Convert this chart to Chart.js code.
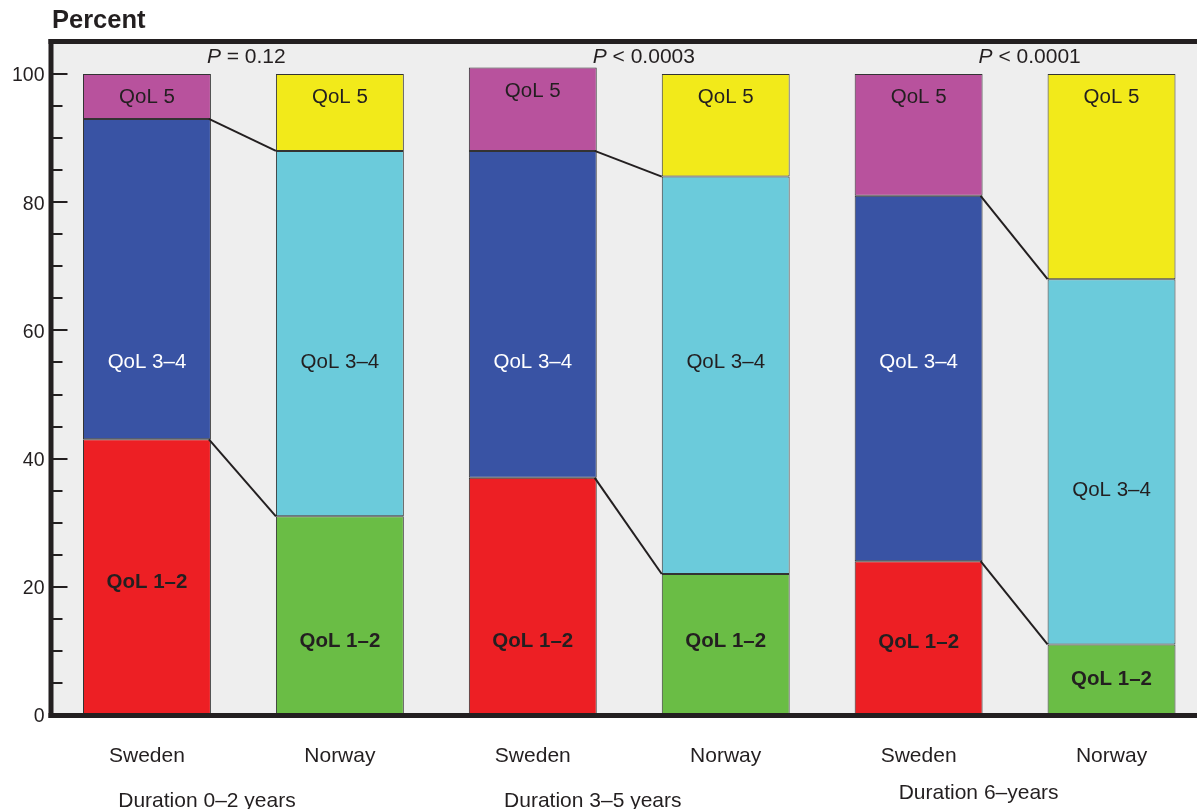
<!DOCTYPE html>
<html>
<head>
<meta charset="utf-8">
<script src="https://cdn.jsdelivr.net/npm/chart.js@4.4.1/dist/chart.umd.min.js"></script>
<style>
  html, body { margin: 0; padding: 0; background: #fff; overflow: hidden; }
  canvas { display: block; }
</style>
</head>
<body>
<canvas id="qol-chart" width="1208" height="809"></canvas>
<script>
// one bar per country and duration group
const categories = ['Sweden', 'Norway', 'Sweden', 'Norway', 'Sweden', 'Norway'];
const groups = ['Duration 0–2 years', 'Duration 3–5 years', 'Duration 6–years'];
const pTexts = ['= 0.12', '< 0.0003', '< 0.0001'];

// percent of patients per QoL class (stacked)
const qol12 = [43, 31, 37, 22, 24, 11];
const qol34 = [50, 57, 51, 62, 57, 57];
const qol5 = [7, 12, 13, 16, 19, 32];

const yTicks = [0, 20, 40, 60, 80, 100];

const FONT = '"Liberation Sans", Arial, Helvetica, sans-serif';
const INK = '#231f20';

const swedenColors = ['#ed1f24', '#3953a4', '#b8529d'];
const norwayColors = ['#6abd45', '#6bcbdb', '#f2ea1a'];

function colorsFor(level) {
  return categories.map(c => c === 'Sweden' ? swedenColors[level] : norwayColors[level]);
}

// where the text sits inside each segment (in percent units)
const labelPos12 = [20.7, 11.5, 11.5, 11.5, 11.3, 5.5];
const labelPos34 = [55, 55, 55, 55, 55, 35];

const decorations = {
  id: 'decorations',
  beforeDraw(chart) {
    const { ctx, chartArea: a } = chart;
    ctx.save();
    ctx.fillStyle = '#eeeeee';
    ctx.fillRect(a.left, a.top, chart.width - a.left, a.bottom - a.top);
    ctx.restore();
  },
  afterDatasetsDraw(chart) {
    const { ctx, chartArea: a } = chart;
    const y = chart.scales.y;
    const bars = [0, 1, 2].map(d => chart.getDatasetMeta(d).data);

    ctx.save();

    // connector lines between Sweden and Norway boundaries
    ctx.strokeStyle = INK;
    ctx.lineWidth = 2;
    for (let g = 0; g < 3; g++) {
      const s = 2 * g, n = 2 * g + 1;
      const sw = bars[0][s], no = bars[0][n];
      const x1 = sw.x + sw.width / 2 - 2;
      const x2 = no.x - no.width / 2;
      [[qol12[s], qol12[n]], [qol12[s] + qol34[s], qol12[n] + qol34[n]]].forEach(([v1, v2]) => {
        ctx.beginPath();
        ctx.moveTo(x1, y.getPixelForValue(v1));
        ctx.lineTo(x2, y.getPixelForValue(v2));
        ctx.stroke();
      });
    }

    // segment labels
    ctx.textAlign = 'center';
    ctx.textBaseline = 'middle';
    categories.forEach((c, i) => {
      const x = bars[0][i].x;
      const top = qol12[i] + qol34[i] + qol5[i];
      ctx.fillStyle = INK;
      ctx.font = '20.5px ' + FONT;
      ctx.fillText('QoL 5', x, y.getPixelForValue(top - 3.7));
      ctx.fillStyle = c === 'Sweden' ? '#ffffff' : INK;
      ctx.fillText('QoL 3–4', x, y.getPixelForValue(labelPos34[i]));
      ctx.fillStyle = INK;
      ctx.font = 'bold 20.5px ' + FONT;
      ctx.fillText('QoL 1–2', x, y.getPixelForValue(labelPos12[i]));
    });

    // frame: left axis, top rule, bottom axis
    ctx.fillStyle = INK;
    ctx.fillRect(a.left - 2, a.top - 2, 5, a.bottom - a.top + 5);
    ctx.fillRect(a.left - 2, a.top - 2, chart.width, 5);
    ctx.fillRect(a.left - 2, a.bottom - 2, chart.width, 5);

    // inward ticks every 5, longer at labelled values
    for (let v = 0; v <= 100; v += 5) {
      const py = Math.round(y.getPixelForValue(v));
      const len = yTicks.includes(v) ? 15 : 10;
      ctx.fillRect(a.left + 2, py - 1, len, 2);
    }

    // P values
    ctx.textAlign = 'left';
    for (let g = 0; g < 3; g++) {
      const sw = bars[0][2 * g];
      let x = sw.x + sw.width / 2 - 4;
      ctx.font = 'italic 21px ' + FONT;
      ctx.fillText('P', x, 57);
      x += ctx.measureText('P').width;
      ctx.font = '21px ' + FONT;
      ctx.fillText(' ' + pTexts[g], x, 57);
    }

    // title
    ctx.font = 'bold 25.5px ' + FONT;
    ctx.fillText('Percent', 52, 21);

    // duration group labels
    ctx.textAlign = 'center';
    ctx.textBaseline = 'alphabetic';
    ctx.font = '21px ' + FONT;
    groups.forEach((label, g) => {
      const sw = bars[0][2 * g];
      ctx.fillText(label, sw.x + 60, g === 2 ? 799 : 807);
    });

    ctx.restore();
  }
};

const datasets = [qol12, qol34, qol5].map((values, level) => ({
  label: ['QoL 1–2', 'QoL 3–4', 'QoL 5'][level],
  data: values,
  backgroundColor: colorsFor(level),
  borderColor: '#333333',
  borderWidth: 1,
  borderSkipped: false,
  barPercentage: 0.663,
  categoryPercentage: 1
}));

new Chart(document.getElementById('qol-chart').getContext('2d'), {
  type: 'bar',
  data: { labels: categories, datasets },
  options: {
    responsive: false,
    animation: false,
    layout: { padding: { top: 41, left: 0, right: 0, bottom: 0 } },
    plugins: {
      legend: { display: false },
      tooltip: { enabled: false }
    },
    scales: {
      x: {
        stacked: true,
        grid: { display: false, drawTicks: false },
        border: { display: false },
        ticks: { color: INK, font: { family: FONT, size: 21 }, padding: 29 },
        afterFit: scale => { scale.height = 94; }
      },
      y: {
        stacked: true,
        min: 0,
        max: 105.15,
        grid: { display: false, drawTicks: false },
        border: { display: false },
        ticks: { color: INK, font: { family: FONT, size: 19.5 }, padding: 6, labelOffset: 2 },
        afterBuildTicks: scale => { scale.ticks = yTicks.map(v => ({ value: v })); },
        afterFit: scale => { scale.width = 50.5; }
      }
    }
  },
  plugins: [decorations]
});
</script>
</body>
</html>
